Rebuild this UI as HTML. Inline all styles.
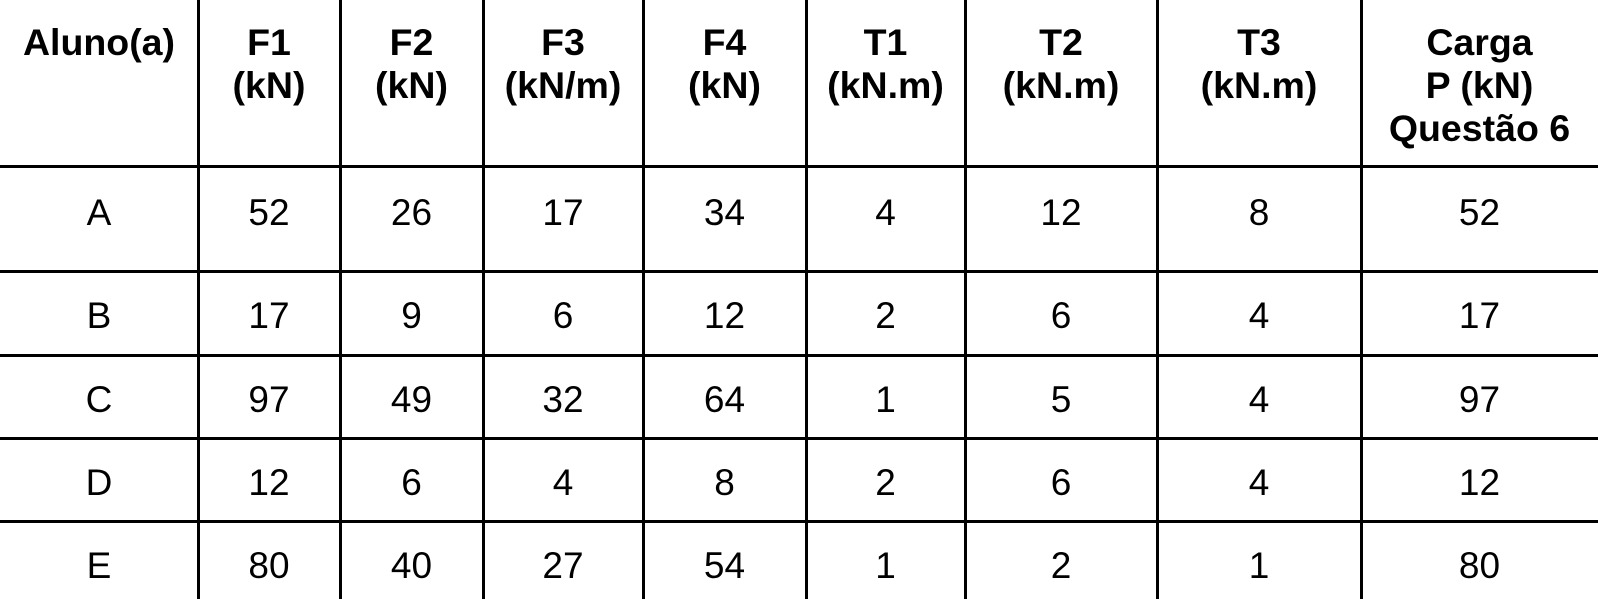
<!DOCTYPE html>
<html><head><meta charset="utf-8"><style>
body{margin:0;width:1598px;height:599px;background:#fff;position:relative;overflow:hidden;font-family:"Liberation Sans",Arial,sans-serif;color:#000}
.v{position:absolute;top:0;width:3px;height:599px;background:#000}
.h{position:absolute;left:0;width:1598px;height:3px;background:#000}
.c{position:absolute;text-align:center;font-size:37px;line-height:43px}
.hd{font-weight:bold;font-size:37.5px}
</style></head><body>
<div id="t"></div>
<script>
const cols=[0,198,340,483,643,806,965,1157,1361,1598];
const rowsY=[166,271,355,438,521];
const headers=["Aluno(a)","F1<br>(kN)","F2<br>(kN)","F3<br>(kN/m)","F4<br>(kN)","T1<br>(kN.m)","T2<br>(kN.m)","T3<br>(kN.m)","Carga<br>P (kN)<br>Questão 6"];
const students=["A","B","C","D","E"];
const F1=[52,17,97,12,80];
const F2=[26,9,49,6,40];
const F3=[17,6,32,4,27];
const F4=[34,12,64,8,54];
const T1=[4,2,1,2,1];
const T2=[12,6,5,6,2];
const T3=[8,4,4,4,1];
const P=[52,17,97,12,80];
const t=document.getElementById('t');
for(let i=1;i<cols.length-1;i++){const d=document.createElement('div');d.className='v';d.style.left=(cols[i]-1)+'px';


t.appendChild(d);}
rowsY.forEach(y=>{const d=document.createElement('div');d.className='h';d.style.top=(y-1)+'px';


t.appendChild(d);});
headers.forEach((h,i)=>{const d=document.createElement('div');d.className='c hd';d.innerHTML=h;
d.style.left=cols[i]+'px';d.style.width=(cols[i+1]-cols[i])+'px';d.style.top='21px';


t.appendChild(d);});
const baselines=[225,328,412,495,578];
students.forEach((s,r)=>{const vals=[s,F1[r],F2[r],F3[r],F4[r],T1[r],T2[r],T3[r],P[r]];
vals.forEach((v,i)=>{const d=document.createElement('div');d.className='c';d.textContent=v;
d.style.left=cols[i]+'px';d.style.width=(cols[i+1]-cols[i])+'px';d.style.top=(baselines[r]-34)+'px';


t.appendChild(d);});});
</script>
</body></html>
